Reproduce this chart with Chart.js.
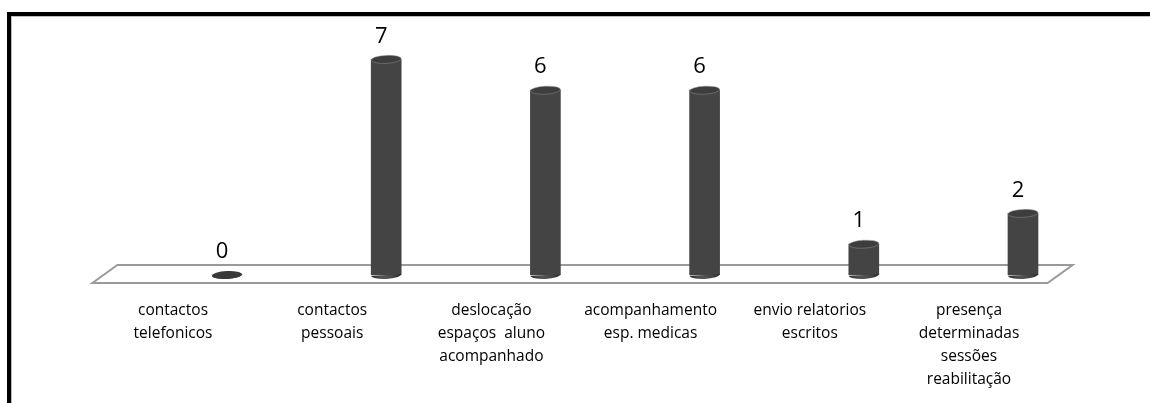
<!DOCTYPE html>
<html>
<head>
<meta charset="utf-8">
<script src="https://cdn.jsdelivr.net/npm/chart.js@4/dist/chart.umd.min.js"></script>
<style>
  html, body { margin: 0; padding: 0; background: #fff; }
  #wrap { position: relative; width: 1150px; height: 403px; overflow: hidden; }
  #frame {
    position: absolute; left: 7px; top: 12px; right: -10px; bottom: -10px;
    border-top: 4px solid #000; border-left: 4px solid #000;
    box-shadow: inset 1px 1px 0 #bdbdbd;
  }
  canvas { position: absolute; left: 0; top: 0; }
</style>
</head>
<body>
<div id="wrap">
  <div id="frame"></div>
  <canvas id="chart" width="1150" height="403"></canvas>
</div>
<script>
  // categorias (quebras de linha como no original)
  const categories = [
    ['contactos', 'telefonicos'],
    ['contactos', 'pessoais'],
    ['deslocação', 'espaços  aluno', 'acompanhado'],
    ['acompanhamento', 'esp. medicas'],
    ['envio relatorios', 'escritos'],
    ['presença', 'determinadas', 'sessões', 'reabilitação']
  ];
  const values = [0, 7, 6, 6, 1, 2];

  const FONT = '"Open Sans", "Liberation Sans", sans-serif';
  const CAP_RY = 4;       // meia-altura das elipses do cilindro
  const TILT = -0.05;     // ligeira inclinação das tampas

  // gradiente horizontal por barra, para dar volume ao cilindro
  function cylGradient(ctx, x, w) {
    const g = ctx.createLinearGradient(x - w / 2, 0, x + w / 2, 0);
    g.addColorStop(0, '#2b2b2b');
    g.addColorStop(0.3, '#4e4e4e');
    g.addColorStop(0.45, '#545454');
    g.addColorStop(0.75, '#444');
    g.addColorStop(1, '#2a2a2a');
    return g;
  }

  // chão em perspetiva por baixo das barras
  const floorPlugin = {
    id: 'floor',
    beforeDatasetsDraw(chart) {
      const { ctx, chartArea } = chart;
      const base = chart.scales.y.getPixelForValue(0);
      ctx.save();
      ctx.beginPath();
      ctx.moveTo(chartArea.left - 55, base + 8);
      ctx.lineTo(chartArea.left - 30, base - 10);
      ctx.lineTo(chartArea.right - 30, base - 10);
      ctx.lineTo(chartArea.right - 55, base + 8);
      ctx.closePath();
      ctx.fillStyle = '#fff';
      ctx.fill();
      ctx.strokeStyle = '#9a9a9a';
      ctx.lineWidth = 2;
      ctx.stroke();
      ctx.restore();
    }
  };

  // tampas elípticas (base e topo) e rótulos de valor
  const cylinderPlugin = {
    id: 'cylinder',
    afterDatasetsDraw(chart) {
      const { ctx } = chart;
      const meta = chart.getDatasetMeta(0);
      ctx.save();
      meta.data.forEach((bar, i) => {
        const rx = bar.width / 2;
        // base arredondada
        ctx.beginPath();
        ctx.ellipse(bar.x, bar.base, rx, CAP_RY, TILT, 0, Math.PI);
        ctx.fillStyle = cylGradient(ctx, bar.x, bar.width);
        ctx.fill();
        // topo
        ctx.beginPath();
        ctx.ellipse(bar.x, bar.y, rx, CAP_RY, TILT, 0, Math.PI * 2);
        ctx.fillStyle = values[i] === 0 ? '#3a3a3a' : '#3d3d3d';
        ctx.fill();
        ctx.strokeStyle = 'rgba(150,150,150,0.6)';
        ctx.lineWidth = 0.8;
        if (values[i] !== 0) ctx.stroke();

        ctx.fillStyle = '#000';
        ctx.font = '22px ' + FONT;
        ctx.textAlign = 'center';
        ctx.textBaseline = 'middle';
        ctx.fillText(String(values[i]), bar.x - 5, bar.y - 23);
      });
      ctx.restore();
    }
  };

  new Chart(document.getElementById('chart'), {
    type: 'bar',
    plugins: [floorPlugin, cylinderPlugin],
    data: {
      labels: categories,
      datasets: [{
        data: values,
        barThickness: 30,
        borderWidth: 0,
        backgroundColor: ctx => {
          const el = ctx.element;
          if (!el || el.x === undefined) return '#444';
          return cylGradient(ctx.chart.ctx, el.x, el.width || 30);
        }
      }]
    },
    options: {
      responsive: false,
      animation: false,
      devicePixelRatio: 1,
      layout: { padding: { left: 147.4, right: 47.4, top: 28.6, bottom: 0 } },
      plugins: { legend: { display: false }, tooltip: { enabled: false } },
      scales: {
        x: {
          grid: { display: false },
          border: { display: false },
          afterFit: scale => { scale.height = 128; },
          ticks: {
            color: '#000',
            font: { family: FONT, size: 15.5, lineHeight: 1.48 },
            padding: 16,
            labelOffset: -54,
            maxRotation: 0,
            autoSkip: false
          }
        },
        y: {
          display: false,
          min: 0,
          max: 8
        }
      }
    }
  });
</script>
</body>
</html>
